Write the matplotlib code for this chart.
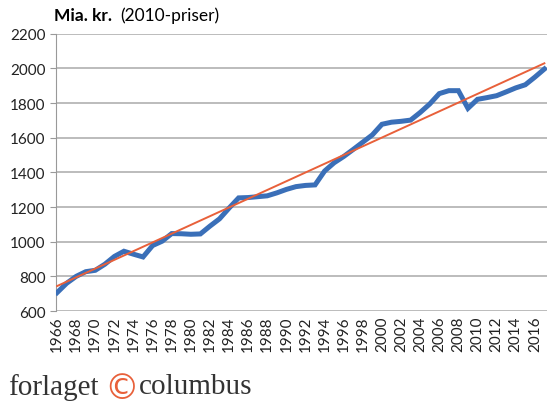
import matplotlib
matplotlib.use("Agg")
import matplotlib.pyplot as plt

plt.rcParams["font.family"] = ["Lato", "DejaVu Sans"]

years = list(range(1966, 2018))
bnp = [706, 760, 800, 827, 835, 870, 915, 945, 928, 912,
       978, 1003, 1047, 1046, 1043, 1045, 1090, 1132, 1194, 1253,
       1255, 1260, 1265, 1282, 1302, 1318, 1325, 1328, 1408, 1456,
       1492, 1533, 1575, 1617, 1678, 1690, 1695, 1702, 1746, 1795,
       1855, 1872, 1872, 1770, 1822, 1832, 1843, 1865, 1888, 1906,
       1950, 1997]
trend_years = [1966, 2017]
trend_vals = [744, 2030]

yticks = list(range(600, 2201, 200))
xticks = list(range(1966, 2017, 2))

fig = plt.figure(figsize=(5.5, 4.1), dpi=100)
ax = fig.add_axes([0.102, 0.239, 0.893, 0.676])

ax.plot(years, bnp, color="#3a6fb8", linewidth=3.6, solid_joinstyle="miter", zorder=3)
ax.plot(trend_years, trend_vals, color="#e8603a", linewidth=1.4, zorder=4)

ax.set_ylim(600, 2200)
ax.set_xlim(1965.9, 2017.3)
ax.set_yticks(yticks)
ax.set_xticks(xticks)
ax.set_xticklabels([str(x) for x in xticks], rotation=90)
ax.tick_params(axis="both", labelsize=11, color="#999999", length=4, labelcolor="#222222")
ax.tick_params(axis="x", length=0, pad=3)
ax.grid(axis="y", color="#b0b0b0", linewidth=1.2)
ax.set_axisbelow(True)
for s in ["top", "right", "bottom"]:
    ax.spines[s].set_visible(False)
ax.spines["left"].set_color("#999999")

fig.text(0.098, 0.962, "Mia. kr.", fontsize=12.5, fontweight="bold", va="center")
fig.text(0.218, 0.962, "(2010-priser)", fontsize=12.5, va="center")

fig.text(0.015, 0.055, "forlaget", fontsize=21, family="Liberation Serif",
         color="#333333", va="center")
fig.text(0.19, 0.052, "©", fontsize=25, family="DejaVu Sans",
         color="#e8603a", va="center")
fig.text(0.253, 0.055, "columbus", fontsize=21, family="Liberation Serif",
         color="#333333", va="center")

fig.savefig("out.png", dpi=100)
